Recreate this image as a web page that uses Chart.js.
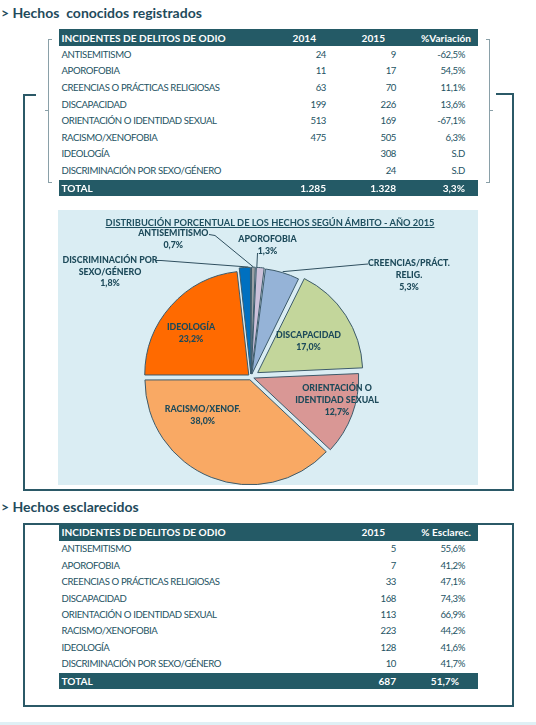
<!DOCTYPE html>
<html lang="es">
<head>
<meta charset="utf-8">
<script src="https://cdn.jsdelivr.net/npm/chart.js@4.4.1/dist/chart.umd.min.js"></script>
<style>
  body { margin: 0; background: #fff; font-family: Lato, "Open Sans", sans-serif; color: #1f4e5e; }
  #page { position: relative; width: 536px; height: 725px; overflow: hidden; }
  .sec { position: absolute; left: 1px; font-weight: bold; font-size: 14px; line-height: 1; color: #1f4b5c; white-space: pre; transform: translateY(-50%); }
  .bar { position: absolute; left: 59px; width: 419px; background: #245a66; }
  .cell { position: absolute; white-space: nowrap; font-size: 9.6px; letter-spacing: -0.4px; line-height: 1; transform: translateY(-50%); color: #245363; }
  .cell.h { color: #fff; font-weight: bold; font-size: 10.1px; letter-spacing: 0; }
  .frame { position: absolute; border-color: #2b5967; border-style: solid; border-width: 0; box-sizing: border-box; }
  .brk { position: absolute; border-color: #8aa0a8; border-style: solid; border-width: 0; box-sizing: border-box; }
  #panel { position: absolute; left: 58px; top: 210px; width: 420px; height: 275px; background: #daedf3; }
  #pie { position: absolute; left: 0; top: 0; }
  #ptitle { position: absolute; left: 0; width: 424px; top: 6.5px; text-align: center; font-weight: bold; font-size: 9.3px; text-decoration: underline; color: #1f5060; }
</style>
</head>
<body>
<div id="page">
  <div class="sec" style="top:13px">&gt; Hechos  conocidos registrados</div>
  <div class="sec" style="top:507px">&gt; Hechos esclarecidos</div>

  <!-- frame round the first table and the chart -->
  <div class="frame" style="left:23px; top:94px; width:491px; height:397px; border-width:0 2px 2px 2px;"></div>
  <div class="frame" style="left:23px; top:94px; width:13px; height:2px; border-top-width:2px;"></div>
  <div class="frame" style="left:496px; top:93px; width:18px; height:2px; border-top-width:2px;"></div>

  <!-- brackets -->
  <div class="brk" style="left:48px; top:39px; width:4px; height:144px; border-width:1px 0 1px 1px;"></div>
  <div class="brk" style="left:45px; top:110px; width:4px; height:1px; border-top-width:1px;"></div>
  <div class="brk" style="left:486px; top:39px; width:4px; height:144px; border-width:1px 1px 1px 0;"></div>
  <div class="brk" style="left:489px; top:110px; width:4px; height:1px; border-top-width:1px;"></div>

  <!-- frame round the second table -->
  <div class="frame" style="left:23px; top:523px; width:491px; height:184px; border-width:2px;"></div>

  <div id="panel">
    <canvas id="pie" width="420" height="275"></canvas>
    <div id="ptitle">DISTRIBUCIÓN PORCENTUAL DE LOS HECHOS SEGÚN ÁMBITO - AÑO 2015</div>
  </div>

  <div style="position:absolute; left:0; top:722px; width:536px; height:3px; background:#dff0f5;"></div>
</div>

<script>
// Table data
const categories = [
  "ANTISEMITISMO", "APOROFOBIA", "CREENCIAS O PRÁCTICAS RELIGIOSAS", "DISCAPACIDAD",
  "ORIENTACIÓN O IDENTIDAD SEXUAL", "RACISMO/XENOFOBIA", "IDEOLOGÍA", "DISCRIMINACIÓN POR SEXO/GÉNERO"
];
const hechos2014 = [24, 11, 63, 199, 513, 475, null, null];
const hechos2015 = [9, 17, 70, 226, 169, 505, 308, 24];
const variacion = [-62.5, 54.5, 11.1, 13.6, -67.1, 6.3, null, null];
const totals1 = [1285, 1328, 3.3];

const esclarecidos2015 = [5, 7, 33, 168, 113, 223, 128, 10];
const pctEsclarec = [55.6, 41.2, 47.1, 74.3, 66.9, 44.2, 41.6, 41.7];
const totals2 = [687, 51.7];

// Pie data (2015, % by category)
const pieNames = [
  "ANTISEMITISMO", "APOROFOBIA", "CREENCIAS/PRÁCT.\nRELIG.", "DISCAPACIDAD",
  "ORIENTACIÓN O\nIDENTIDAD SEXUAL", "RACISMO/XENOF.", "IDEOLOGÍA", "DISCRIMINACIÓN POR\nSEXO/GÉNERO"
];
const piePct = [0.7, 1.3, 5.3, 17.0, 12.7, 38.0, 23.2, 1.8];

const sliceColors = ["#9a9fa3", "#ccc1da", "#95b3d7", "#c3d69b", "#d99795", "#f9a964", "#ff6a00", "#0070c0"];

function fmtInt(n) { return String(n).replace(/\B(?=(\d{3})+(?!\d))/g, "."); }
function fmtPct(v) { return v.toFixed(1).replace(".", ",") + "%"; }

const page = document.getElementById("page");
function cell(txt, x, y, right, head) {
  const d = document.createElement("div");
  d.className = "cell" + (head ? " h" : "");
  d.textContent = txt;
  d.style.top = y + "px";
  if (right) d.style.right = (536 - x) + "px"; else d.style.left = x + "px";
  page.appendChild(d);
}
function bar(top, h) {
  const d = document.createElement("div");
  d.className = "bar";
  d.style.top = top + "px";
  d.style.height = h + "px";
  page.appendChild(d);
}

// Table 1
bar(29, 17);
cell("INCIDENTES DE DELITOS DE ODIO", 61.5, 37.5, false, true);
cell("2014", 316, 37.5, true, true);
cell("2015", 385, 37.5, true, true);
cell("%Variación", 471, 37.5, true, true);
categories.forEach((c, i) => {
  const y = 54.7 + i * 16.6;
  cell(c, 61.5, y);
  if (hechos2014[i] != null) cell(fmtInt(hechos2014[i]), 326, y, true);
  cell(fmtInt(hechos2015[i]), 396, y, true);
  cell(variacion[i] == null ? "S.D" : fmtPct(variacion[i]), 465, y, true);
});
bar(179.5, 16.5);
cell("TOTAL", 61.5, 187.7, false, true);
cell(fmtInt(totals1[0]), 326, 187.7, true, true);
cell(fmtInt(totals1[1]), 396, 187.7, true, true);
cell(fmtPct(totals1[2]), 465, 187.7, true, true);

// Table 2
bar(524, 16.5);
cell("INCIDENTES DE DELITOS DE ODIO", 61.5, 532.2, false, true);
cell("2015", 385, 532.2, true, true);
cell("% Esclarec.", 471, 532.2, true, true);
categories.forEach((c, i) => {
  const y = 549.2 + i * 16.45;
  cell(c, 61.5, y);
  cell(fmtInt(esclarecidos2015[i]), 396, y, true);
  cell(fmtPct(pctEsclarec[i]), 465, y, true);
});
bar(672.5, 16.5);
cell("TOTAL", 61.5, 680.7, false, true);
cell(fmtInt(totals2[0]), 396, 680.7, true, true);
cell(fmtPct(totals2[1]), 459, 680.7, true, true);

// Pie labels: block centre relative to the pie centre, and leader lines
const labelPos = [[-77.7, -137.8], [16.5, -132], [158, -101.7], [57.5, -36.1], [86, 23], [-48.3, 38], [-60, -43.5], [-141, -105.3]];
const leaders = {
  0: { pts: [[-42, -142.5], [-36, -141.5]], t: 0.5 },
  1: { pts: [[6.5, -124]], t: 0.1 },
  2: { pts: [[117, -113], [111, -112.5]], t: 0.5 },
  7: { pts: [[-95, -116.5], [-90, -116.5]], t: 0.8 }
};
const sliceOffsets = [12, 12, 12, 32, 12, 12, 12, 12];

const sliceLabels = {
  id: "sliceLabels",
  afterDatasetsDraw(chart) {
    const c = chart.ctx;
    const meta = chart.getDatasetMeta(0);
    c.save();
    c.strokeStyle = "#2f4f5f";
    c.lineWidth = 1;
    c.fillStyle = "#1d4a5a";
    c.font = "900 8.8px Lato";
    c.textAlign = "center";
    c.textBaseline = "middle";
    meta.data.forEach((arc, i) => {
      const { x, y, startAngle, endAngle, outerRadius } = arc.getProps(["x", "y", "startAngle", "endAngle", "outerRadius"], true);
      const ld = leaders[i];
      if (ld) {
        const mid = (startAngle + endAngle) / 2;
        const off = sliceOffsets[i] / 4;
        const a = startAngle + (endAngle - startAngle) * ld.t;
        const ex = x + Math.cos(mid) * off + Math.cos(a) * (outerRadius + off);
        const ey = y + Math.sin(mid) * off + Math.sin(a) * (outerRadius + off);
        c.beginPath();
        c.moveTo(x + ld.pts[0][0], y + ld.pts[0][1]);
        for (let k = 1; k < ld.pts.length; k++) c.lineTo(x + ld.pts[k][0], y + ld.pts[k][1]);
        c.lineTo(ex, ey);
        c.stroke();
      }
      const lines = pieNames[i].split("\n").concat(fmtPct(piePct[i]));
      const [dx, dy] = labelPos[i];
      lines.forEach((ln, k) => c.fillText(ln, x + dx, y + dy + (k - (lines.length - 1) / 2) * 11.7));
    });
    c.restore();
  }
};

new Chart(document.getElementById("pie").getContext("2d"), {
  type: "pie",
  data: {
    labels: pieNames,
    datasets: [{
      data: piePct,
      backgroundColor: sliceColors,
      borderColor: "#3c5a6a",
      borderWidth: 1,
      offset: sliceOffsets,
      radius: 104
    }]
  },
  options: {
    responsive: false,
    animation: false,
    events: [],
    layout: { padding: { left: 0, right: 34, top: 59, bottom: 0 } },
    plugins: { legend: { display: false }, tooltip: { enabled: false } }
  },
  plugins: [sliceLabels]
});
</script>
</body>
</html>
